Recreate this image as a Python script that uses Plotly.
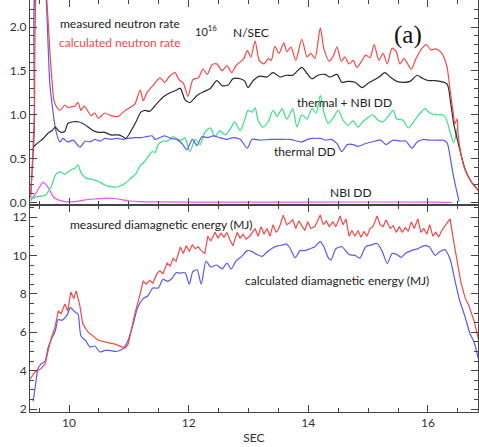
import plotly.graph_objects as go

# ---------------- top panel: neutron rates (10^16 N/SEC) ----------------
t_calc_n = [9.36, 9.42, 9.47, 9.58, 9.63, 9.68, 9.72, 9.75, 9.80, 9.85, 9.93, 9.98, 10.03, 10.10, 10.15, 10.20, 10.25, 10.28,
            10.37, 10.43, 10.49, 10.60, 10.70, 10.82, 10.94, 11.04, 11.10, 11.19, 11.24, 11.30, 11.40, 11.52, 11.60, 11.67,
            11.77, 11.84, 11.91, 11.99, 12.07, 12.16, 12.24, 12.31, 12.39, 12.47, 12.56, 12.64, 12.72, 12.79, 12.86, 12.92,
            12.98, 13.04, 13.11, 13.18, 13.26, 13.33, 13.38, 13.44, 13.51, 13.59, 13.64, 13.71, 13.79, 13.89, 13.98, 14.04,
            14.11, 14.20, 14.26, 14.35, 14.41, 14.48, 14.55, 14.61, 14.68, 14.75, 14.81, 14.90, 14.96, 15.03, 15.10, 15.18,
            15.25, 15.32, 15.40, 15.47, 15.53, 15.60, 15.72, 15.80, 15.88, 15.97, 16.05, 16.13, 16.22, 16.27, 16.32, 16.37,
            16.42, 16.45, 16.49, 16.50, 16.55, 16.62, 16.72, 16.85]
calc_neutron = [0.05, 1.00, 2.60, 2.80, 2.30, 1.73, 1.35, 1.16, 1.08, 1.05, 1.11, 1.08, 1.09, 1.10, 1.14, 1.05, 1.10, 1.08,
                0.99, 1.02, 0.96, 1.02, 0.99, 0.98, 1.05, 1.09, 1.12, 1.28, 1.16, 1.25, 1.33, 1.42, 1.37, 1.43,
                1.48, 1.40, 1.36, 1.21, 1.40, 1.42, 1.52, 1.46, 1.57, 1.58, 1.50, 1.56, 1.48, 1.56, 1.60, 1.64,
                1.73, 1.66, 1.84, 1.62, 1.58, 1.64, 1.62, 1.78, 1.70, 1.82, 1.72, 1.77, 1.62, 1.86, 1.66, 1.70,
                1.64, 1.99, 1.75, 1.61, 1.66, 1.77, 1.61, 1.66, 1.58, 1.62, 1.54, 1.62, 1.68, 1.65, 1.80, 1.62,
                1.70, 1.58, 1.76, 1.72, 1.58, 1.64, 1.52, 1.64, 1.74, 1.80, 1.74, 1.75, 1.71, 1.65, 1.54, 1.28,
                1.03, 0.90, 0.95, 0.80, 0.56, 0.37, 0.24, 0.13]

t_meas_n = [9.40, 9.48, 9.57, 9.65, 9.72, 9.77, 9.82, 9.87, 9.93, 9.98, 10.07, 10.15, 10.23, 10.32, 10.40, 10.49, 10.60,
            10.70, 10.82, 10.90, 10.95, 11.04, 11.12, 11.20, 11.27, 11.35, 11.47, 11.57, 11.69, 11.79, 11.86, 11.94, 12.02,
            12.14, 12.24, 12.36, 12.47, 12.56, 12.66, 12.74, 12.86, 12.94, 12.99, 13.08, 13.19, 13.31, 13.41, 13.53, 13.63,
            13.74, 13.89, 13.98, 14.06, 14.16, 14.28, 14.36, 14.48, 14.56, 14.66, 14.78, 14.90, 15.00, 15.08, 15.20, 15.28,
            15.37, 15.48, 15.60, 15.70, 15.82, 15.90, 16.00, 16.10, 16.20, 16.32, 16.38, 16.43, 16.49, 16.55, 16.62, 16.72, 16.85]
meas_neutron = [0.63, 0.68, 0.73, 0.79, 0.82, 0.86, 0.82, 0.80, 0.81, 0.90, 0.92, 0.92, 0.90, 0.86, 0.82, 0.80, 0.80,
                0.77, 0.77, 0.75, 0.73, 0.82, 0.92, 1.03, 1.05, 1.04, 1.13, 1.20, 1.25, 1.28, 1.30, 1.17, 1.14,
                1.22, 1.26, 1.30, 1.39, 1.33, 1.34, 1.41, 1.41, 1.38, 1.31, 1.39, 1.44, 1.43, 1.48, 1.43, 1.45,
                1.45, 1.54, 1.47, 1.41, 1.45, 1.46, 1.43, 1.46, 1.37, 1.38, 1.37, 1.31, 1.36, 1.39, 1.44, 1.48,
                1.43, 1.38, 1.37, 1.38, 1.45, 1.42, 1.39, 1.39, 1.38, 1.35, 1.13, 0.90, 0.72, 0.55, 0.38, 0.24, 0.13]

t_tot_dd = [9.36, 9.48, 9.60, 9.70, 9.78, 9.85, 9.93, 10.02, 10.10, 10.15, 10.20, 10.28, 10.40, 10.49, 10.60, 10.70, 10.82,
            10.94, 11.04, 11.12, 11.19, 11.24, 11.30, 11.39, 11.44, 11.49, 11.57, 11.65, 11.74, 11.82, 11.89, 11.94, 12.02,
            12.11, 12.19, 12.27, 12.36, 12.44, 12.52, 12.61, 12.69, 12.77, 12.86, 12.94, 12.99, 13.06, 13.11, 13.16, 13.24,
            13.33, 13.41, 13.48, 13.56, 13.64, 13.74, 13.81, 13.89, 13.98, 14.06, 14.13, 14.20, 14.26, 14.33, 14.41, 14.50,
            14.58, 14.66, 14.75, 14.83, 14.91, 15.00, 15.08, 15.16, 15.25, 15.32, 15.42, 15.48, 15.58, 15.67, 15.77, 15.87,
            15.95, 16.03, 16.15, 16.23, 16.30, 16.37, 16.43, 16.49]
thermal_nbi_dd = [0.04, 0.07, 0.08, 0.18, 0.32, 0.35, 0.32, 0.37, 0.39, 0.43, 0.34, 0.28, 0.26, 0.24, 0.20, 0.18, 0.18,
                  0.22, 0.28, 0.33, 0.42, 0.45, 0.50, 0.58, 0.57, 0.66, 0.70, 0.70, 0.75, 0.72, 0.71, 0.74, 0.58,
                  0.72, 0.66, 0.80, 0.85, 0.75, 0.82, 0.77, 0.83, 0.92, 0.82, 0.95, 1.05, 1.03, 1.08, 0.94, 0.86,
                  0.92, 1.05, 0.98, 1.07, 0.95, 1.07, 0.86, 1.00, 0.95, 1.07, 1.02, 1.22, 1.03, 0.90, 0.96, 1.05,
                  0.94, 0.88, 0.93, 0.86, 0.92, 0.97, 1.00, 0.94, 0.92, 0.97, 1.05, 0.95, 0.94, 0.85, 0.93, 1.02,
                  1.07, 1.02, 1.00, 1.00, 0.96, 0.80, 0.68, 0.85]

t_th_dd = [9.36, 9.42, 9.47, 9.58, 9.62, 9.68, 9.73, 9.78, 9.85, 9.90, 9.98, 10.07, 10.18, 10.27, 10.35, 10.43, 10.52,
           10.60, 10.70, 10.79, 10.90, 10.99, 11.10, 11.20, 11.29, 11.39, 11.44, 11.52, 11.60, 11.70, 11.80, 11.89, 11.97,
           12.06, 12.14, 12.22, 12.32, 12.41, 12.52, 12.64, 12.74, 12.86, 12.98, 13.06, 13.19, 13.36, 13.53, 13.69, 13.89,
           13.99, 14.08, 14.20, 14.30, 14.38, 14.48, 14.56, 14.65, 14.75, 14.83, 14.95, 15.06, 15.21, 15.30, 15.42, 15.53,
           15.63, 15.73, 15.82, 15.93, 16.03, 16.15, 16.25, 16.32, 16.37, 16.42, 16.47, 16.52]
thermal_dd = [0.10, 0.80, 2.60, 2.60, 2.30, 1.35, 1.05, 0.82, 0.69, 0.73, 0.69, 0.71, 0.63, 0.70, 0.69, 0.72, 0.70,
              0.73, 0.72, 0.73, 0.72, 0.73, 0.74, 0.74, 0.75, 0.76, 0.72, 0.74, 0.76, 0.73, 0.72, 0.67, 0.60,
              0.72, 0.65, 0.75, 0.74, 0.76, 0.74, 0.72, 0.74, 0.72, 0.62, 0.72, 0.71, 0.72, 0.72, 0.72, 0.69,
              0.72, 0.73, 0.73, 0.71, 0.72, 0.67, 0.58, 0.66, 0.66, 0.64, 0.67, 0.69, 0.71, 0.66, 0.71, 0.70,
              0.70, 0.62, 0.69, 0.72, 0.71, 0.71, 0.71, 0.68, 0.52, 0.32, 0.16, 0.01]

t_nbi_dd = [9.36, 9.45, 9.52, 9.57, 9.62, 9.68, 9.73, 9.82, 9.93, 10.10, 10.27, 10.43, 10.65, 10.82, 10.99, 11.20, 12.19,
            13.86, 16.20, 16.40]
nbi_dd = [0.02, 0.11, 0.19, 0.23, 0.20, 0.14, 0.07, 0.03, 0.01, 0.01, 0.03, 0.04, 0.05, 0.04, 0.02, 0.01, 0.005,
          0.005, 0.005, 0.0]

# ---------------- bottom panel: diamagnetic energy (MJ) ----------------
t_meas_w = [9.35, 9.43, 9.52, 9.60, 9.65, 9.70, 9.77, 9.82, 9.87, 9.93, 9.98, 10.03, 10.08, 10.12, 10.18, 10.23, 10.32,
            10.40, 10.49, 10.65, 10.77, 10.87, 10.94, 10.99, 11.04, 11.10, 11.19, 11.24, 11.29, 11.35, 11.40, 11.47, 11.52,
            11.57, 11.64, 11.69, 11.74, 11.79, 11.86, 11.91, 11.96, 12.01, 12.06, 12.11, 12.16, 12.21, 12.27, 12.32, 12.37,
            12.44, 12.49, 12.54, 12.59, 12.64, 12.69, 12.74, 12.81, 12.86, 12.91, 12.96, 13.02, 13.11, 13.16, 13.21, 13.26,
            13.31, 13.36, 13.41, 13.46, 13.51, 13.58, 13.64, 13.69, 13.74, 13.79, 13.84, 13.89, 13.94, 13.99, 14.04, 14.11,
            14.20, 14.25, 14.30, 14.35, 14.41, 14.46, 14.53, 14.58, 14.63, 14.68, 14.73, 14.78, 14.83, 14.88, 14.93, 14.98,
            15.03, 15.08, 15.15, 15.20, 15.25, 15.30, 15.37, 15.42, 15.47, 15.52, 15.57, 15.62, 15.67, 15.72, 15.77, 15.83,
            15.88, 15.93, 15.98, 16.03, 16.08, 16.13, 16.18, 16.23, 16.30, 16.37, 16.42, 16.48, 16.55, 16.62, 16.68, 16.77, 16.85]
meas_energy = [3.56, 3.93, 4.08, 4.34, 5.02, 5.65, 6.32, 7.10, 6.97, 7.47, 7.10, 8.10, 7.75, 8.15, 7.40, 6.43, 6.00,
               5.80, 5.58, 5.46, 5.38, 5.25, 5.18, 5.38, 6.06, 6.95, 8.00, 8.67, 8.50, 8.70, 8.55, 9.05, 9.20,
               9.05, 9.60, 9.45, 9.84, 9.70, 10.44, 10.10, 10.50, 10.20, 10.55, 10.35, 10.45, 10.25, 10.10, 11.00, 10.75,
               11.20, 10.90, 11.15, 10.95, 11.20, 10.80, 10.50, 11.20, 10.90, 11.10, 10.85, 11.00, 11.40, 11.00, 11.50, 11.10,
               11.40, 11.00, 11.60, 11.20, 11.40, 12.10, 11.60, 11.70, 11.85, 11.40, 11.80, 11.55, 11.30, 11.75, 11.40, 11.50,
               12.10, 11.60, 11.80, 11.50, 11.75, 11.50, 12.05, 11.60, 11.90, 11.00, 11.30, 11.00, 11.30, 10.95, 11.25, 11.00,
               11.40, 11.50, 12.05, 11.60, 11.50, 11.85, 11.40, 11.55, 11.20, 11.50, 11.20, 11.45, 11.25, 11.75, 11.40, 11.90,
               11.20, 11.40, 11.10, 11.60, 11.00, 11.20, 10.96, 11.30, 11.60, 11.90, 10.90, 9.80, 8.60, 7.80, 7.40, 6.60, 5.55]

t_calc_w = [9.40, 9.45, 9.48, 9.53, 9.60, 9.65, 9.70, 9.77, 9.82, 9.88, 9.97, 10.02, 10.10, 10.15, 10.20, 10.28, 10.35,
            10.43, 10.52, 10.60, 10.68, 10.77, 10.85, 10.92, 10.99, 11.07, 11.15, 11.24, 11.32, 11.40, 11.49, 11.57, 11.65,
            11.72, 11.79, 11.86, 11.94, 12.01, 12.07, 12.14, 12.21, 12.29, 12.37, 12.47, 12.56, 12.64, 12.71, 12.79, 12.89,
            12.98, 13.06, 13.14, 13.23, 13.31, 13.41, 13.49, 13.58, 13.63, 13.69, 13.78, 13.86, 13.94, 14.03, 14.11, 14.20,
            14.26, 14.33, 14.38, 14.46, 14.56, 14.68, 14.78, 14.86, 14.96, 15.06, 15.15, 15.23, 15.32, 15.40, 15.48, 15.55,
            15.62, 15.72, 15.83, 15.93, 16.02, 16.12, 16.20, 16.28, 16.37, 16.45, 16.53, 16.62, 16.70, 16.77, 16.84]
calc_energy = [2.40, 3.46, 4.10, 4.34, 4.50, 5.20, 5.60, 6.06, 6.66, 6.62, 6.90, 7.28, 7.05, 6.95, 5.80, 5.56, 5.23,
               5.28, 4.97, 5.05, 5.05, 5.00, 5.05, 5.20, 5.60, 6.40, 7.30, 7.75, 7.90, 8.30, 8.30, 8.75, 8.65,
               8.80, 9.10, 9.08, 9.10, 8.50, 9.15, 9.25, 8.50, 9.70, 9.40, 9.50, 9.30, 9.60, 9.30, 9.70, 9.96,
               10.25, 10.20, 10.05, 9.95, 10.18, 10.40, 10.50, 10.55, 10.60, 10.40, 9.88, 10.25, 10.25, 10.35, 10.45, 10.72,
               10.45, 9.90, 9.76, 10.35, 10.45, 10.05, 10.00, 9.86, 10.45, 10.55, 10.62, 10.25, 9.58, 10.10, 10.05, 9.90,
               10.10, 10.25, 10.35, 10.50, 10.45, 10.00, 10.20, 10.30, 9.80, 8.70, 7.65, 6.80, 5.95, 5.48, 4.65]

RED = "#f54848"
BLACK = "#2a2a2a"
GREEN = "#3ae080"
BLUE = "#5a5af0"
MAGENTA = "#f050f0"
LW = 1.2

def smooth(color):
    return dict(color=color, width=LW, shape="spline", smoothing=0.7)

fig = go.Figure()
fig.add_trace(go.Scatter(x=t_nbi_dd, y=nbi_dd, mode="lines", line=smooth(MAGENTA), xaxis="x", yaxis="y"))
fig.add_trace(go.Scatter(x=t_tot_dd, y=thermal_nbi_dd, mode="lines", line=smooth(GREEN), xaxis="x", yaxis="y"))
fig.add_trace(go.Scatter(x=t_th_dd, y=thermal_dd, mode="lines", line=smooth(BLUE), xaxis="x", yaxis="y"))
fig.add_trace(go.Scatter(x=t_meas_n, y=meas_neutron, mode="lines", line=smooth(BLACK), xaxis="x", yaxis="y"))
fig.add_trace(go.Scatter(x=t_calc_n, y=calc_neutron, mode="lines", line=smooth(RED), xaxis="x", yaxis="y"))
fig.add_trace(go.Scatter(x=t_calc_w, y=calc_energy, mode="lines", line=smooth(BLUE), xaxis="x2", yaxis="y2"))
fig.add_trace(go.Scatter(x=t_meas_w, y=meas_energy, mode="lines", line=dict(color=RED, width=LW), xaxis="x2", yaxis="y2"))

FONT = "Lato"
TICKFONT = dict(family=FONT, size=12, color="#333")
AX = dict(showline=True, linecolor="#444", linewidth=1, mirror="ticks", ticks="inside", ticklen=7,
          tickcolor="#444", showgrid=False, zeroline=False, tickfont=TICKFONT)
XR = [9.348, 16.836]
split = 0.5024

fig.update_layout(
    width=479, height=447, margin=dict(l=30, r=1, t=0, b=35),
    paper_bgcolor="white", plot_bgcolor="white", showlegend=False,
    xaxis=dict(AX, domain=[0, 1], anchor="y", range=XR, tick0=10, dtick=2, showticklabels=False,
               minor=dict(ticks="inside", ticklen=4, dtick=0.5, tickcolor="#444")),
    yaxis=dict(AX, domain=[split, 1], anchor="x", range=[-0.0285, 2.3077], tick0=0, dtick=0.5, tickformat=".1f",
               minor=dict(ticks="inside", ticklen=4, dtick=0.1, tickcolor="#444")),
    xaxis2=dict(AX, domain=[0, 1], anchor="y2", range=XR, tick0=10, dtick=2,
                minor=dict(ticks="inside", ticklen=4, dtick=0.5, tickcolor="#444"),
                title=dict(text="SEC", font=dict(family=FONT, size=12, color="#333"), standoff=4)),
    yaxis2=dict(AX, domain=[0, split], anchor="x2", range=[1.844, 12.625], tick0=2, dtick=2,
                minor=dict(ticks="inside", ticklen=4, dtick=0.5, tickcolor="#444")),
)

TXT = dict(family=FONT, size=12, color="#222")
def note(text, x, y, font=TXT):
    fig.add_annotation(text=text, x=x, y=y, xref="paper", yref="paper", xanchor="left", yanchor="middle",
                       showarrow=False, font=font)

note("measured neutron rate", 0.0625, 0.944)
note("calculated neutron rate", 0.060, 0.898, dict(family=FONT, size=12, color=RED))
note("10<sup>16</sup>", 0.364, 0.925, dict(family=FONT, size=11, color="#222"))
note("N/SEC", 0.449, 0.920)
note("(a)", 0.808, 0.915, dict(family="Liberation Serif", size=25, color="#111"))
note("thermal + NBI DD", 0.5915, 0.752)
note("thermal DD", 0.540, 0.633)
note("NBI DD", 0.665, 0.532)
note("measured diamagnetic energy (MJ)", 0.0848, 0.454)
note("calculated diamagnetic energy (MJ)", 0.4754, 0.320)

fig.write_html("out.html")
